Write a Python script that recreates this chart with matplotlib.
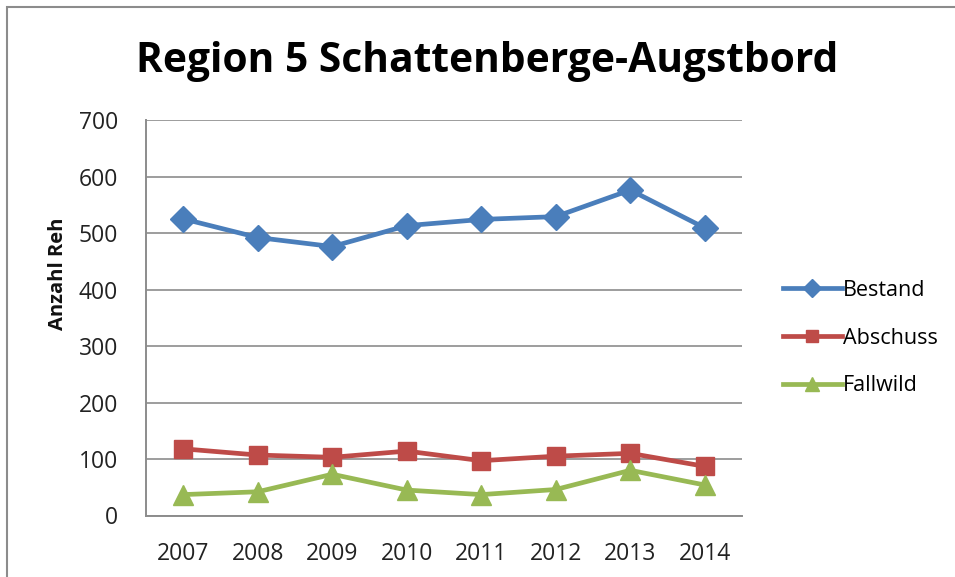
import matplotlib.pyplot as plt
from matplotlib.patches import Rectangle

# data
years = ['2007', '2008', '2009', '2010', '2011', '2012', '2013', '2014']
bestand = [525, 492, 476, 513, 524, 529, 576, 509]
abschuss = [118, 107, 103, 114, 97, 105, 110, 87]
fallwild = [37, 42, 73, 45, 37, 46, 80, 54]
y_ticks = [0, 100, 200, 300, 400, 500, 600, 700]

plt.rcParams['font.family'] = ['Open Sans', 'DejaVu Sans']

fig = plt.figure(figsize=(9.55, 5.77), dpi=100)
ax = fig.add_axes([146 / 955, 1 - 515.5 / 577, (742 - 146) / 955, (515.5 - 120) / 577])

x = range(len(years))
ax.plot(x, bestand, color='#4A7EBB', lw=3.4, marker='D', ms=13, label='Bestand')
ax.plot(x, abschuss, color='#BE4B48', lw=3.4, marker='s', ms=12.5, label='Abschuss')
ax.plot(x, fallwild, color='#98B954', lw=3.4, marker='^', ms=14, label='Fallwild')

ax.set_xlim(-0.5, len(years) - 0.5)
ax.set_ylim(0, 700)
ax.set_xticks(list(x))
ax.set_xticklabels(years)
ax.set_yticks(y_ticks)
ax.tick_params(length=0, labelsize=16.5, colors='#222222')
ax.tick_params(axis='x', pad=19)
ax.tick_params(axis='y', pad=20)
ax.grid(axis='y', color='#8c8c8c', lw=1.2)
ax.set_axisbelow(True)
for s in ['top', 'right']:
    ax.spines[s].set_visible(False)
for s in ['left', 'bottom']:
    ax.spines[s].set_color('#8c8c8c')
    ax.spines[s].set_linewidth(1.4)

fig.text(58 / 955, 1 - 274 / 577, 'Anzahl Reh', rotation=90, ha='center', va='center',
         fontsize=14.5, fontweight='bold', color='#111111')
fig.text(487 / 955, 1 - 62 / 577, 'Region 5 Schattenberge-Augstbord', ha='center', va='center',
         fontsize=29.3, fontweight='bold', color='black')

ax.legend(loc='center left', bbox_to_anchor=(764 / 955, 1 - 338 / 577),
          bbox_transform=fig.transFigure, frameon=False, fontsize=15.5,
          handlelength=2.7, handletextpad=0.05, labelspacing=1.25, markerscale=0.7)

# outer chart border
fig.patches.append(Rectangle((7 / 955, -0.1), 1.2, 1 - 7 / 577 + 0.1, transform=fig.transFigure,
                             fill=False, edgecolor='#8c8c8c', lw=1.5))

fig.savefig('out.png', dpi=100)
